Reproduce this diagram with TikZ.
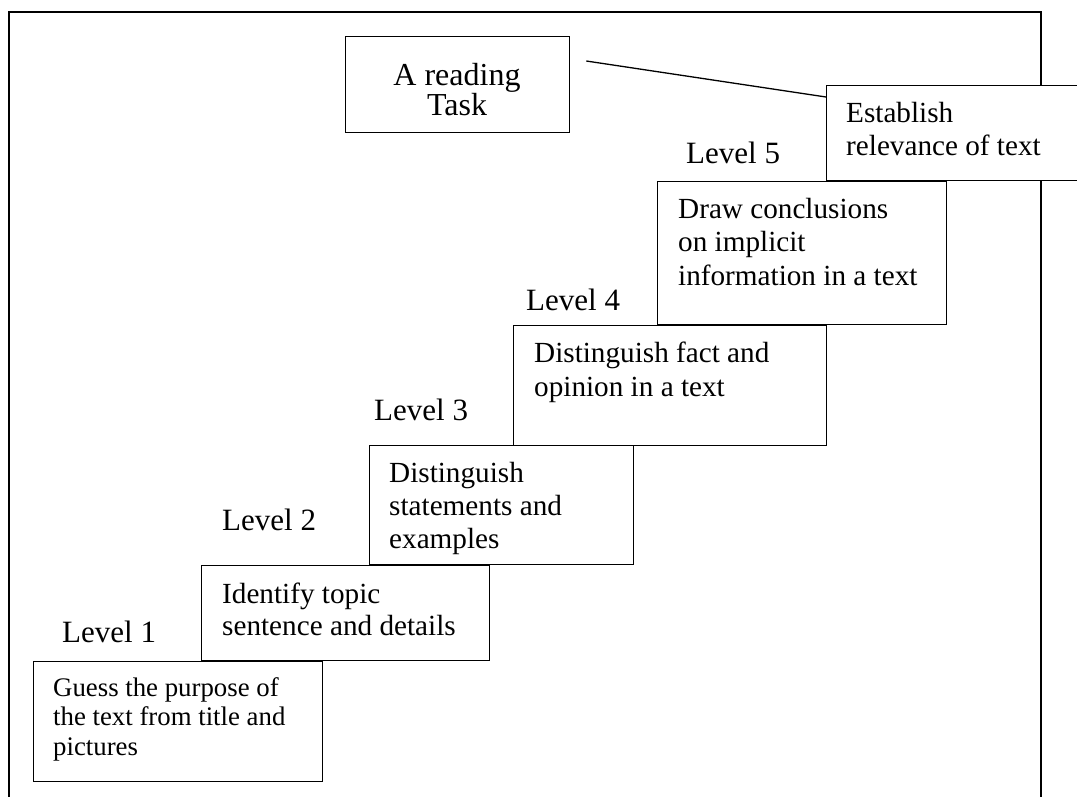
\documentclass[tikz,border=0pt]{standalone}
\usepackage{fontspec}
\setmainfont{Liberation Serif}
\usetikzlibrary{calc}
\newcommand{\mybt}[3]{\parbox[t]{400pt}{\fontsize{#1}{#2}\selectfont #3}}
\tikzset{
  box/.style={draw, fill=white, line width=1.3pt, inner sep=0pt, anchor=north west},
  txt/.style={inner sep=0pt, anchor=base west},
  lvl/.style={inner sep=0pt, anchor=base west, font=\fontsize{31}{34}\selectfont},
  frameline/.style={line width=1.3pt}
}
\begin{document}
\begin{tikzpicture}[x=1pt,y=-1pt]
\useasboundingbox (0,0) rectangle (1077,796);
\clip (0,0) rectangle (1077,796);
% outer frame
\coordinate (fbl) at (9,800);
\coordinate (ftl) at (9,12);
\coordinate (ftr) at (1041,12);
\coordinate (fbr) at (1041,800);
\draw[frameline] (fbl) -- (ftl) -- (ftr) -- (fbr);
% step boxes
\node[box, minimum width=289pt, minimum height=120pt] (b1) at (33,661) {};
\node[box, minimum width=288pt, minimum height=95pt] (b2) at (201,565) {};
\node[box, minimum width=264pt, minimum height=119pt] (b3) at (369,445) {};
\node[box, minimum width=313pt, minimum height=120pt] (b4) at (513,325) {};
\node[box, minimum width=289pt, minimum height=143pt] (b5) at (657,181) {};
\node[box, minimum width=270pt, minimum height=95pt] (est) at (826,85) {};
\node[box, minimum width=224pt, minimum height=96pt] (task) at (345,36) {};
% box texts
\node[txt] (t1) at (53,696) {\mybt{26.8}{29.5}{Guess the purpose of\\the text from title and\\pictures}};
\node[txt] (t2) at (222,603) {\mybt{29.2}{32}{Identify topic\\sentence and details}};
\node[txt] (t3) at (389,482) {\mybt{29.2}{33}{Distinguish\\statements and\\examples}};
\node[txt] (t4) at (534,362) {\mybt{29.2}{34}{Distinguish fact and\\opinion in a text}};
\node[txt] (t5) at (678,218) {\mybt{29.2}{33.5}{Draw conclusions\\on implicit\\information in a text}};
\node[txt] (test) at (846,122) {\mybt{29.2}{33}{Establish\\relevance of text}};
\node[inner sep=0pt, anchor=base] (ttask) at (457,85) {\parbox[t]{220pt}{\centering\fontsize{32}{30}\selectfont A reading\\Task}};
% level labels
\node[lvl] (l1) at (62,642) {Level 1};
\node[lvl] (l2) at (222,530) {Level 2};
\node[lvl] (l3) at (374,420) {Level 3};
\node[lvl] (l4) at (526,310) {Level 4};
\node[lvl] (l5) at (686,163) {Level 5};
% connector
\coordinate (cstart) at ($(task.north east)+(16,25)$);
\draw[line width=1.3pt] (cstart) -- ($(est.north west)+(0,12)$);
\end{tikzpicture}
\end{document}
